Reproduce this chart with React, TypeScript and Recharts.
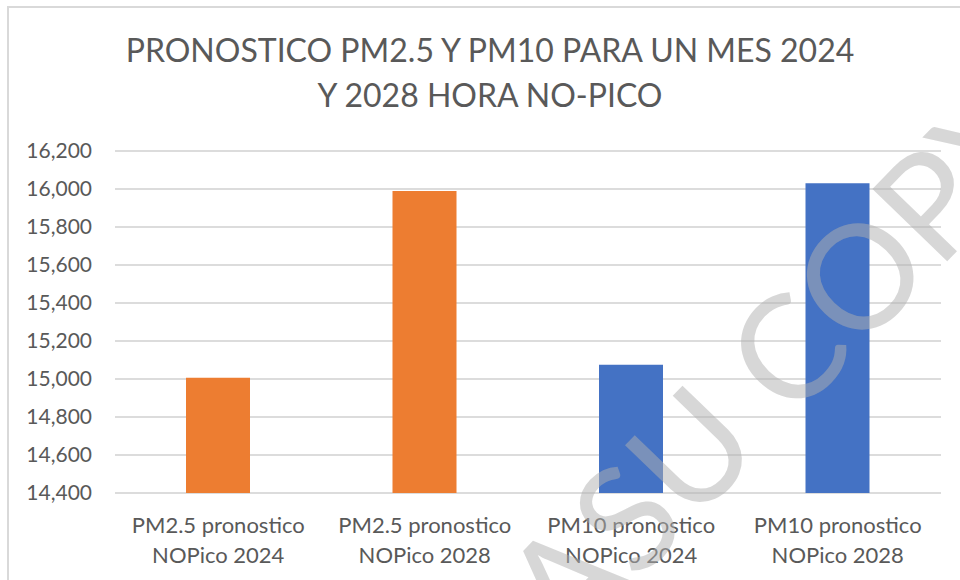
import { BarChart, Bar, XAxis, YAxis, CartesianGrid, Cell } from "recharts";

const categories = [
  "PM2.5 pronostico NOPico 2024",
  "PM2.5 pronostico NOPico 2028",
  "PM10 pronostico NOPico 2024",
  "PM10 pronostico NOPico 2028",
];

const values = [15007, 15989, 15075, 16030];

const yTicks = [14400, 14600, 14800, 15000, 15200, 15400, 15600, 15800, 16000, 16200];

const BAR_COLORS = ["#ED7D31", "#ED7D31", "#4472C4", "#4472C4"];

const data = categories.map((name, i) => ({ name, value: values[i] }));

const FONT = "Lato, 'Open Sans', sans-serif";
const TEXT = "#595959";

function CategoryTick({ x, y, payload }: any) {
  const label: string = payload.value;
  const cut = label.indexOf(" NOPico");
  const first = label.slice(0, cut);
  const second = label.slice(cut + 1);
  return (
    <g>
      <text x={x} y={y + 40} textAnchor="middle" fill={TEXT} fontSize={22} fontFamily={FONT}>
        {first}
      </text>
      <text x={x} y={y + 70} textAnchor="middle" fill={TEXT} fontSize={22} fontFamily={FONT}>
        {second}
      </text>
    </g>
  );
}

export default function App() {
  return (
    <div
      style={{
        position: "absolute",
        left: 0,
        top: 0,
        width: 960,
        height: 580,
        overflow: "hidden",
        background: "#fff",
      }}
    >
      {/* chart frame */}
      <div
        style={{
          position: "absolute",
          left: 7,
          top: 6,
          width: 980,
          height: 620,
          border: "2px solid #d9d9d9",
        }}
      />

      {/* title */}
      <div
        style={{
          position: "absolute",
          left: 0,
          top: 27,
          width: 980,
          textAlign: "center",
          fontFamily: FONT,
          fontSize: 32,
          lineHeight: "45px",
          color: TEXT,
        }}
      >
        PRONOSTICO PM2.5 Y PM10 PARA UN MES 2024
        <br />Y 2028 HORA NO-PICO
      </div>

      <div style={{ position: "absolute", left: 0, top: 0 }}>
        <BarChart
          width={960}
          height={580}
          data={data}
          margin={{ top: 151, right: 19, bottom: 0, left: 0 }}
          barSize={64}
        >
          <CartesianGrid vertical={false} stroke="#dcdcdc" strokeWidth={2} />
          <XAxis
            dataKey="name"
            axisLine={false}
            tickLine={false}
            tickSize={0}
            tickMargin={0}
            height={87}
            interval={0}
            tick={<CategoryTick />}
          />
          <YAxis
            domain={[14400, 16200]}
            ticks={yTicks}
            width={115}
            axisLine={false}
            tickLine={false}
            tickMargin={17}
            tickFormatter={(v: number) => v.toLocaleString("en-US")}
            tick={{ fill: TEXT, fontSize: 21, fontFamily: FONT }}
          />
          <Bar dataKey="value" isAnimationActive={false}>
            {data.map((d, i) => (
              <Cell key={d.name} fill={BAR_COLORS[i]} />
            ))}
          </Bar>
        </BarChart>
      </div>

      {/* watermark */}
      <div
        style={{
          position: "absolute",
          left: 774,
          top: 360,
          transform: "translate(-50%, -50%) rotate(-46deg)",
          fontFamily: FONT,
          fontSize: 145,
          color: "rgba(175,175,175,0.5)",
          whiteSpace: "nowrap",
          pointerEvents: "none",
        }}
      >
        ASU COPY
      </div>
    </div>
  );
}
